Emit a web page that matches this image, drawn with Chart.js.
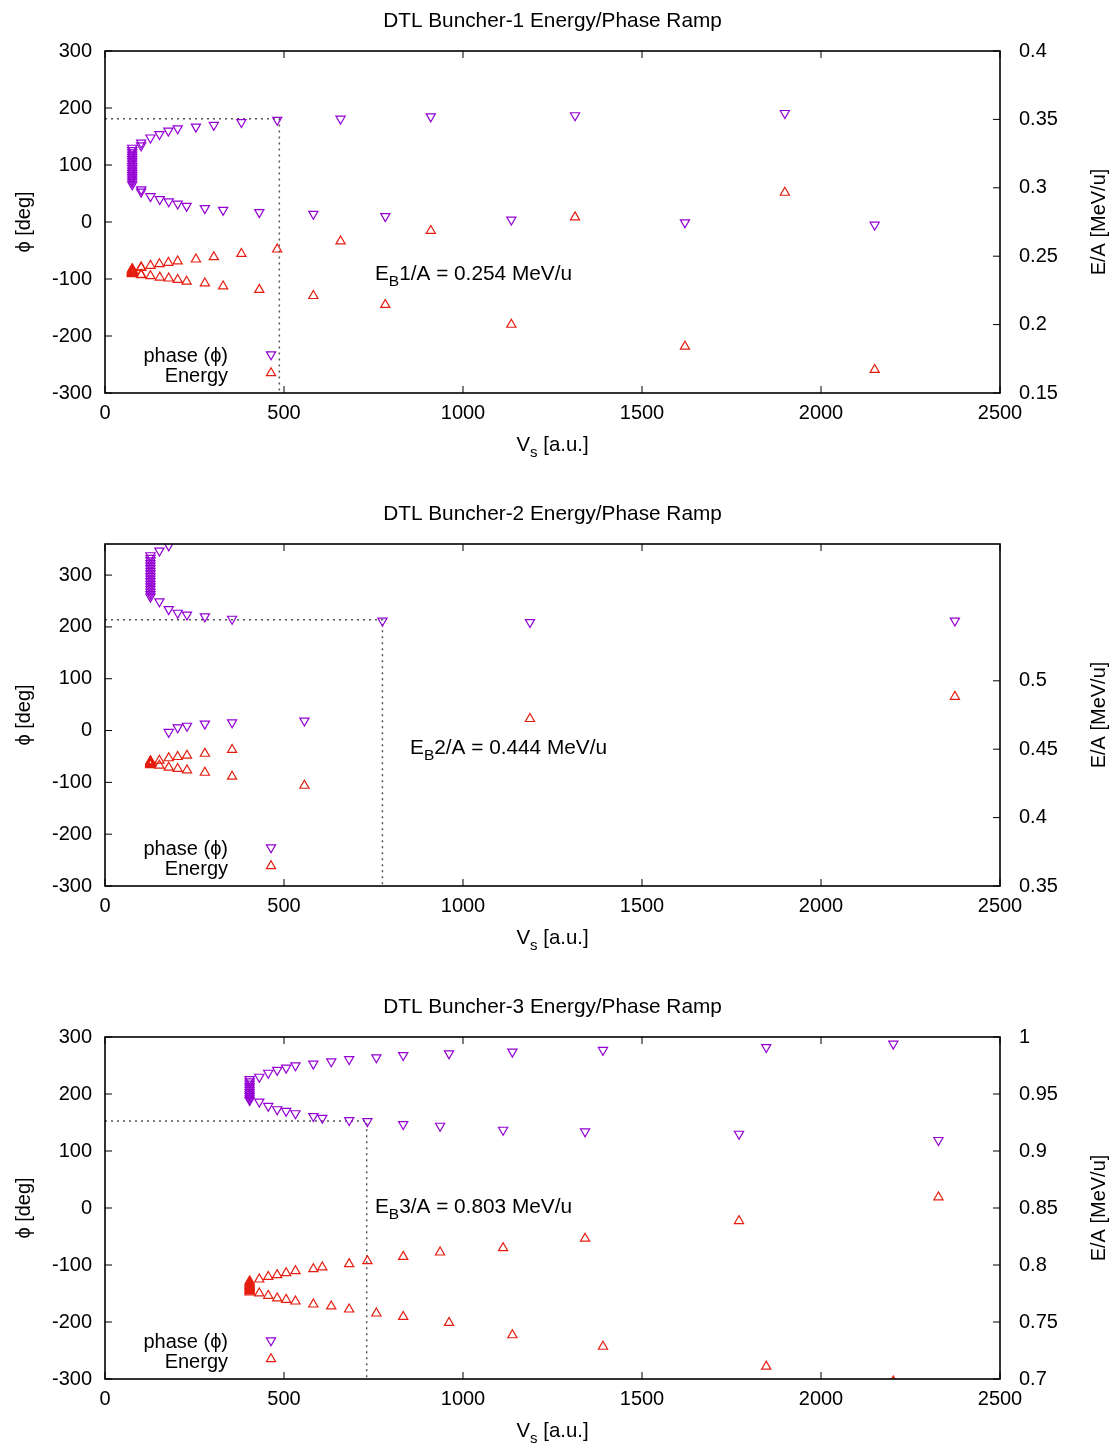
<!DOCTYPE html>
<html>
<head>
<meta charset="utf-8">
<script src="https://cdn.jsdelivr.net/npm/chart.js@4.4.1/dist/chart.umd.min.js"></script>
<style>
  html, body { margin: 0; padding: 0; background: #fff; overflow: hidden; }
  canvas { display: block; }
</style>
</head>
<body>
<canvas id="buncher1" width="1115" height="493"></canvas>
<canvas id="buncher2" width="1115" height="493"></canvas>
<canvas id="buncher3" width="1115" height="493"></canvas>
<script>
// shared axis ticks
const xTicks = [0, 500, 1000, 1500, 2000, 2500]
const phiTicks = [-300, -200, -100, 0, 100, 200, 300]

// Buncher-1
const vs1 = [2150, 1620, 1135, 783, 582, 431, 330, 279, 228, 203, 178, 153, 127, 101, 101,
  76, 76, 76, 76, 76, 76, 76, 76, 76, 76, 76, 76, 76, 76, 76, 76, 76,
  101, 101, 127, 152, 177, 203, 254, 304, 381, 481, 658, 910, 1313, 1899]
const phase1 = [-5, -1, 4, 10, 14, 17, 21, 24, 28, 32, 36, 40, 45, 53, 57,
  66, 70, 74, 78, 82, 86, 90, 94, 98, 102, 106, 110, 114, 118, 122, 126, 130,
  134, 139, 148, 154, 160, 164, 167, 170, 175, 179, 181, 185, 187, 191]
const energy1 = [0.167, 0.184, 0.200, 0.2145, 0.221, 0.2255, 0.228, 0.2302, 0.2315, 0.2328, 0.2338, 0.2345, 0.2355, 0.2362, 0.2365,
  0.2370, 0.2372, 0.2375, 0.2377, 0.2379, 0.2381, 0.2384, 0.2386, 0.2388, 0.2390, 0.2392, 0.2395, 0.2397, 0.2399, 0.2401, 0.2403, 0.2406,
  0.2415, 0.2419, 0.2431, 0.2443, 0.2453, 0.2463, 0.2477, 0.2494, 0.2518, 0.2550, 0.2609, 0.2686, 0.2785, 0.2965]
const eTicks1 = [0.15, 0.2, 0.25, 0.3, 0.35, 0.4]

// Buncher-2
const vs2 = [152, 178, 178, 203, 229, 279, 355, 557,
  127, 127, 127, 127, 127, 127, 127, 127, 127, 127, 127, 127, 127, 127, 127, 127, 127,
  152, 178, 203, 229, 279, 355, 775, 1187, 2374]
const phase2 = [347, 357, -3, 6, 9, 13, 15.5, 19,
  338, 333, 328, 323, 318, 313, 308, 303, 298, 293, 288, 283, 278, 273, 268, 263, 258,
  249, 234, 227, 223.5, 220, 215.5, 212, 209, 212]
const energy2 = [0.4381, null, 0.4366, 0.4357, 0.4347, 0.4329, 0.4300, 0.4234,
  0.4385, 0.4387, 0.4389, 0.4390, 0.4392, 0.4394, 0.4396, 0.4397, 0.4399, 0.4401, 0.4402, 0.4404, 0.4406, 0.4407, 0.4409, 0.4411, 0.4412,
  0.4417, 0.4435, 0.4444, 0.4454, 0.4468, 0.4496, null, 0.4722, 0.4884]
const eTicks2 = [0.35, 0.4, 0.45, 0.5]

// Buncher-3
const vs3 = [431, 456, 481, 506, 532, 582, 632, 682, 758, 833, 961, 1138, 1391, 1847, 2202,
  404, 404, 404, 404, 404, 404, 404, 404, 404, 404, 404,
  431, 456, 481, 506, 532, 582, 607, 682, 733, 833, 936, 1112, 1341, 1771, 2328]
const phase3 = [230, 237, 242, 246, 250, 253, 257, 261, 264, 268, 271, 274, 277, 282, 288,
  226, 222, 218, 214, 211, 207, 203, 199, 196, 192, 189,
  186.5, 179, 173, 170, 166, 161, 158, 154, 152, 147, 144, 137, 134, 130, 119]
const energy3 = [0.7752, 0.7731, 0.7708, 0.7696, 0.7681, 0.7655, 0.7638, 0.7611, 0.7576, 0.7546, 0.7494, 0.7385, 0.7284, 0.711, 0.698,
  0.7762, 0.7772, 0.7781, 0.7790, 0.7800, 0.7810, 0.7819, 0.7829, 0.7838, 0.7848, 0.7858,
  0.7874, 0.7897, 0.7912, 0.793, 0.7947, 0.7965, 0.798, 0.8009, 0.8035, 0.8073, 0.8111, 0.8149, 0.8232, 0.8387, 0.8595]
const eTicks3 = [0.7, 0.75, 0.8, 0.85, 0.9, 0.95, 1]

const purple = '#9400d3'
const red = '#e51e10'
const FONT = "'Liberation Sans', Arial, sans-serif"
const PHI = '\u03d5'

Chart.defaults.font.family = FONT
Chart.defaults.font.size = 20
Chart.defaults.color = '#000'

function fmt(v){
    return String(Math.round(v * 100) / 100)
}

// draws everything gnuplot style: inward ticks, frame, titles, key, label
const gnuFrame = {
    id: 'gnuFrame',
    afterDatasetsDraw(chart, args, o){
        const ctx = chart.ctx
        const a = chart.chartArea
        const sx = chart.scales.x, sy = chart.scales.y, sy1 = chart.scales.y1
        ctx.save()
        ctx.strokeStyle = '#000'
        ctx.lineWidth = 1
        ctx.beginPath()
        sx.ticks.forEach(t => {
            const p = sx.getPixelForValue(t.value)
            ctx.moveTo(p, a.bottom); ctx.lineTo(p, a.bottom - 7)
            ctx.moveTo(p, a.top); ctx.lineTo(p, a.top + 7)
        })
        sy.ticks.forEach(t => {
            const p = sy.getPixelForValue(t.value)
            ctx.moveTo(a.left, p); ctx.lineTo(a.left + 7, p)
        })
        sy1.ticks.forEach(t => {
            const p = sy1.getPixelForValue(t.value)
            ctx.moveTo(a.right, p); ctx.lineTo(a.right - 7, p)
        })
        ctx.stroke()
        ctx.lineWidth = 1.6
        ctx.strokeRect(a.left, a.top, a.right - a.left, a.bottom - a.top)

        ctx.fillStyle = '#000'
        // title
        ctx.font = '20.8px ' + FONT
        ctx.textAlign = 'center'
        ctx.textBaseline = 'alphabetic'
        ctx.fillText(o.title, (a.left + a.right) / 2, a.top - 24.5)

        // x axis title with subscript
        const xt = [['V', 20.4, 0], ['s', 15, 6], [' [a.u.]', 20.4, 0]]
        drawParts(ctx, xt, (a.left + a.right) / 2, a.bottom + 58, true)

        // y titles, both read bottom to top
        const cy = (a.top + a.bottom) / 2
        ctx.font = '20px ' + FONT
        ctx.textAlign = 'center'
        ctx.textBaseline = 'middle'
        ctx.save(); ctx.translate(24, cy); ctx.rotate(-Math.PI / 2); ctx.fillText(PHI + ' [deg]', 0, 0); ctx.restore()
        ctx.save(); ctx.translate(1099, cy); ctx.rotate(-Math.PI / 2); ctx.fillText('E/A [MeV/u]', 0, 0); ctx.restore()

        // key
        ctx.textAlign = 'right'
        ctx.textBaseline = 'alphabetic'
        ctx.fillText('phase (' + PHI + ')', a.left + 123, a.bottom - 31.5)
        ctx.fillText('Energy', a.left + 123, a.bottom - 11.5)
        ctx.fillStyle = 'rgba(0,0,0,0)'
        ctx.lineWidth = 1.2
        ctx.strokeStyle = purple
        Chart.helpers.drawPoint(ctx, {pointStyle: 'triangle', rotation: 180, radius: 5.3, borderWidth: 1.2}, a.left + 166, a.bottom - 38.5)
        ctx.strokeStyle = red
        Chart.helpers.drawPoint(ctx, {pointStyle: 'triangle', rotation: 0, radius: 5.3, borderWidth: 1.2}, a.left + 166, a.bottom - 20)

        // E_B label
        ctx.fillStyle = '#000'
        const lx = sx.getPixelForValue(o.ebAt[0])
        const ly = sy.getPixelForValue(o.ebAt[1]) + 7
        drawParts(ctx, [['E', 20.8, 0], ['B', 15.5, 6], [o.ebText, 20.8, 0]], lx, ly, false)
        ctx.restore()
    }
}

function drawParts(ctx, parts, x, y, centered){
    ctx.textAlign = 'left'
    ctx.textBaseline = 'alphabetic'
    let w = 0
    parts.forEach(p => { ctx.font = p[1] + 'px ' + FONT; w += ctx.measureText(p[0]).width })
    let cx = centered ? x - w / 2 : x
    parts.forEach(p => {
        ctx.font = p[1] + 'px ' + FONT
        ctx.fillText(p[0], cx, y + p[2])
        cx += ctx.measureText(p[0]).width
    })
}

function pts(vs, vals){
    const out = []
    vs.forEach((v, i) => { if (vals[i] !== null) out.push({x: v, y: vals[i]}) })
    return out
}

function drawPanel(id, title, vs, phase, energy, eTicks, eMin, eMax, phiMax, opVs, opPhi, ebText, ebAt){
    const canvas = document.getElementById(id)
    new Chart(canvas, {
        type: 'scatter',
        data: {
            datasets: [{
                label: 'phase',
                data: pts(vs, phase),
                yAxisID: 'y',
                pointStyle: 'triangle',
                rotation: 180,
                pointRadius: 5.3,
                pointBorderWidth: 1.2,
                borderColor: purple,
                backgroundColor: 'rgba(0,0,0,0)',
                clip: 0
            }, {
                label: 'Energy',
                data: pts(vs, energy),
                yAxisID: 'y1',
                pointStyle: 'triangle',
                pointRadius: 5.3,
                pointBorderWidth: 1.2,
                borderColor: red,
                backgroundColor: 'rgba(0,0,0,0)',
                clip: 0
            }, {
                label: 'op',
                data: [{x: 0, y: opPhi}, {x: opVs, y: opPhi}, {x: opVs, y: -300}],
                yAxisID: 'y',
                showLine: true,
                pointRadius: 0,
                borderColor: '#555',
                borderWidth: 1.5,
                borderDash: [2, 4],
                clip: 0
            }]
        },
        options: {
            responsive: false,
            animation: false,
            devicePixelRatio: 1,
            layout: { padding: { top: 51, left: 0, right: 0, bottom: 0 } },
            plugins: {
                legend: { display: false },
                tooltip: { enabled: false },
                gnuFrame: { title: title, ebText: ebText, ebAt: ebAt }
            },
            scales: {
                x: {
                    type: 'linear', position: 'bottom', min: 0, max: 2500,
                    grid: { display: false, drawTicks: false }, border: { display: false },
                    ticks: { padding: 8, maxRotation: 0, callback: v => String(v) },
                    afterBuildTicks: s => { s.ticks = xTicks.map(v => ({value: v})) },
                    afterFit: s => { s.height = 100 }
                },
                y: {
                    type: 'linear', position: 'left', min: -300, max: phiMax,
                    grid: { display: false, drawTicks: false }, border: { display: false },
                    ticks: { padding: 13, callback: v => String(v) },
                    afterBuildTicks: s => { s.ticks = phiTicks.map(v => ({value: v})) },
                    afterFit: s => { s.width = 105 }
                },
                y1: {
                    type: 'linear', position: 'right', min: eMin, max: eMax,
                    grid: { display: false, drawTicks: false }, border: { display: false },
                    ticks: { padding: 19, callback: v => fmt(v) },
                    afterBuildTicks: s => { s.ticks = eTicks.map(v => ({value: v})) },
                    afterFit: s => { s.width = 115 }
                }
            }
        },
        plugins: [gnuFrame]
    })
}

drawPanel('buncher1', 'DTL Buncher-1 Energy/Phase Ramp', vs1, phase1, energy1, eTicks1, 0.15, 0.4, 300, 487, 181, '1/A = 0.254 MeV/u', [754, -89])
drawPanel('buncher2', 'DTL Buncher-2 Energy/Phase Ramp', vs2, phase2, energy2, eTicks2, 0.35, 0.6, 360, 775, 214, '2/A = 0.444 MeV/u', [852, -32])
drawPanel('buncher3', 'DTL Buncher-3 Energy/Phase Ramp', vs3, phase3, energy3, eTicks3, 0.7, 1.0, 300, 731, 152.6, '3/A = 0.803 MeV/u', [754, 4])
</script>
</body>
</html>
